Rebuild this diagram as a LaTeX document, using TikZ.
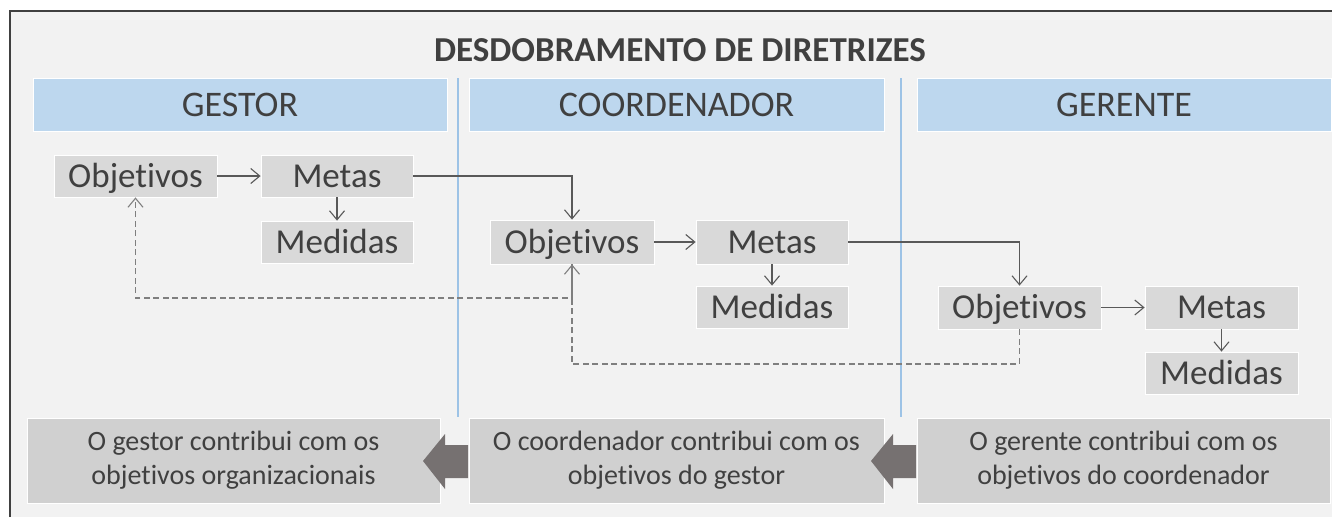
\documentclass[tikz,border=0pt]{standalone}
\usepackage{fontspec}
\setmainfont{Carlito}[Ligatures=NoCommon]
\usetikzlibrary{arrows.meta}
\definecolor{bgc}{HTML}{F2F2F2}
\definecolor{framec}{HTML}{404040}
\definecolor{txt}{HTML}{404040}
\definecolor{hdr}{HTML}{BDD7EE}
\definecolor{sepc}{HTML}{9DC3E6}
\definecolor{boxc}{HTML}{D9D9D9}
\definecolor{botc}{HTML}{D0D0D0}
\definecolor{linec}{HTML}{595959}
\definecolor{dashc}{HTML}{7F7F7F}
\definecolor{bigarr}{HTML}{767171}
\tikzset{
  hdrbox/.style={fill=hdr, draw=white, line width=0.8pt, minimum width=414pt, minimum height=53pt, inner sep=0pt, text height=23.2pt, text depth=0pt, text=txt, font=\fontsize{36}{42}\selectfont},
  itembox/.style={fill=boxc, draw=white, line width=0.8pt, minimum height=42pt, inner sep=0pt, text height=22.5pt, text depth=0pt, text=txt, font=\fontsize{35}{42}\selectfont},
  botbox/.style={fill=botc, draw=white, line width=0.8pt, minimum width=413pt, minimum height=85pt, inner sep=0pt, text=txt, align=center, font=\fontsize{28}{34}\selectfont},
  conn/.style={draw=linec, line width=1.1pt, -{Straight Barb[length=9pt,width=15pt,line width=1.1pt]}},
  dconn/.style={draw=dashc, line width=1.3pt, dash pattern=on 6pt off 3.5pt, -{Straight Barb[length=9pt,width=15pt,line width=1.1pt]}},
  sep/.style={draw=sepc, line width=1.5pt},
  blockarrow/.style={fill=bigarr, draw=none}
}
\begin{document}
\begin{tikzpicture}[x=1pt,y=-1pt]
\useasboundingbox (0,0) rectangle (1332,517);
\fill[white] (0,0) rectangle (1332,517);
\fill[bgc] (10,11) rectangle (1332,517);
\draw[framec, line width=2pt] (10,517) -- (10,11) -- (1332,11);

\node[text=txt, font=\bfseries\fontsize{35}{40}\selectfont] (title) at (680,50) {DESDOBRAMENTO DE DIRETRIZES};

\node[hdrbox] (gH) at (240,104.5) {GESTOR};
\node[hdrbox, minimum width=415pt] (cH) at (676.5,104.5) {COORDENADOR};
\node[hdrbox] (rH) at (1124,104.5) {GERENTE};

\coordinate (s1t) at (458,78);
\coordinate (s1b) at (458,417);
\coordinate (s2t) at (901,78);
\coordinate (s2b) at (901,417);
\draw[sep] (s1t) -- (s1b);
\draw[sep] (s2t) -- (s2b);

% Gestor
\node[itembox, minimum width=163pt] (gObj) at (135.5,176) {Objetivos};
\node[itembox, minimum width=152pt] (gMet) at (337,176) {Metas};
\node[itembox, minimum width=152pt] (gMed) at (337,242) {Medidas};
% Coordenador
\node[itembox, minimum width=164pt, minimum height=44pt] (cObj) at (572,242) {Objetivos};
\node[itembox, minimum width=152pt, minimum height=44pt] (cMet) at (772,242) {Metas};
\node[itembox, minimum width=152pt] (cMed) at (772,307) {Medidas};
% Gerente
\node[itembox, minimum width=163pt, minimum height=43pt] (rObj) at (1019.5,307.5) {Objetivos};
\node[itembox, minimum width=153pt, minimum height=43pt] (rMet) at (1221.5,307.5) {Metas};
\node[itembox, minimum width=153pt] (rMed) at (1221.5,373) {Medidas};

\draw[conn] (gObj) -- (gMet);
\draw[conn] (gMet) -- (gMed);
\draw[conn] (cObj) -- (cMet);
\draw[conn] (cMet) -- (cMed);
\draw[conn] (rObj) -- (rMet);
\draw[conn] (rMet) -- (rMed);

\draw[conn] (gMet.east) -| (cObj.north);
\draw[conn] (cMet.east) -| (rObj.north);

\coordinate (d1) at (572,298);
\coordinate (d2) at (800,364);
\draw[dconn] (cObj.south) -- (d1) -| (gObj.south);
\draw[dconn] (rObj.south) |- (d2) -| (cObj.south);

% bottom
\node[botbox] (b1) at (233.5,460.5) {O gestor contribui com os\\objetivos organizacionais};
\node[botbox, minimum width=415pt] (b2) at (676.5,460.5) {O coordenador contribui com os\\objetivos do gestor};
\node[botbox] (b3) at (1123.5,460.5) {O gerente contribui com os\\objetivos do coordenador};

\fill[blockarrow] (423,461) -- (445,434) -- (445,445) -- (468,445) -- (468,478) -- (445,478) -- (445,489) -- cycle;
\fill[blockarrow] (871,461) -- (893,434) -- (893,445) -- (916,445) -- (916,478) -- (893,478) -- (893,489) -- cycle;
\end{tikzpicture}
\end{document}
